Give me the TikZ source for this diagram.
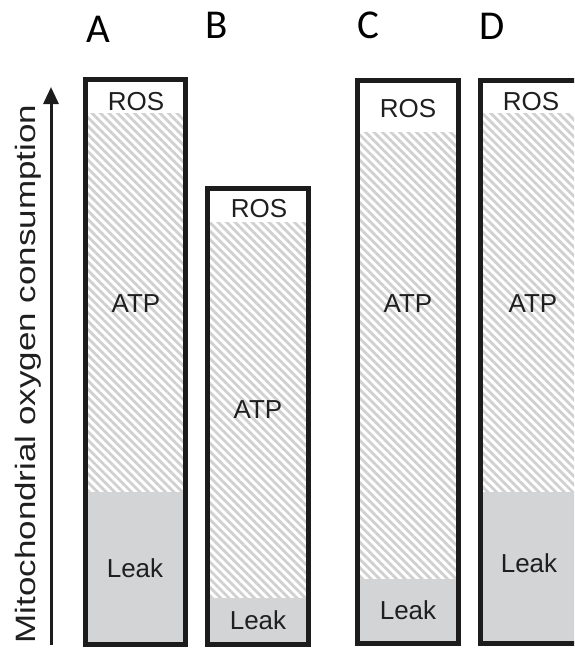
\documentclass[tikz,border=0pt]{standalone}
\usepackage{graphicx}
\usepackage{fontspec}
\setmainfont{Liberation Sans}
\newfontfamily\panelfont{Carlito}
\usetikzlibrary{arrows.meta,patterns.meta}

\definecolor{leakgray}{RGB}{211,212,214}
\definecolor{hatchgray}{RGB}{208,208,208}
\definecolor{framegray}{RGB}{28,28,28}

\tikzset{
  barframe/.style={draw=framegray,line width=5pt},
  atpfill/.style={pattern={Lines[angle=-45,distance=6pt,line width=2.8pt]},pattern color=hatchgray},
  leakfill/.style={fill=leakgray},
  lbl/.style={anchor=base,font=\fontsize{26}{26}\selectfont,text=black!88},
  panel/.style={anchor=base,font=\panelfont\fontsize{41}{41}\selectfont},
  axis/.style={draw=framegray,line width=3pt,-{Triangle[length=17pt,width=15pt]}}
}

\begin{document}
\begin{tikzpicture}[x=1pt,y=1pt,yscale=-1]
\useasboundingbox (0,0) rectangle (574,649);
\clip (0,0) rectangle (574,649);

%Shape: Axis
\coordinate (axbot) at (51,645);
\coordinate (axtop) at (51,87);
\draw [axis] (axbot) -- (axtop);
% Text Node
\node [rotate=90,anchor=base,font=\fontsize{28}{28}\selectfont,text=black!88] (axlbl) at (35,374)
  {\scalebox{1.25}[1]{Mitochondrial oxygen consumption}};

%Shape: Bar A
\fill [atpfill] (85.5,113) rectangle (185.5,492);
\fill [leakfill] (85.5,492) rectangle (185.5,644.5);
\draw [barframe] (85.5,79.5) rectangle (185.5,644.5);

%Shape: Bar B
\fill [atpfill] (207.5,222) rectangle (308.5,598);
\fill [leakfill] (207.5,598) rectangle (308.5,644.5);
\draw [barframe] (207.5,188.5) rectangle (308.5,644.5);

%Shape: Bar C
\fill [atpfill] (357.5,132) rectangle (458.5,579);
\fill [leakfill] (357.5,579) rectangle (458.5,643.5);
\draw [barframe] (357.5,80.5) rectangle (458.5,643.5);

%Shape: Bar D
\fill [atpfill] (480.5,113) rectangle (581.5,492);
\fill [leakfill] (480.5,492) rectangle (581.5,643.5);
\draw [barframe] (480.5,80.5) rectangle (581.5,643.5);

% Text Node
\node [panel] (labA) at (98,42) {A};
\node [panel] (labB) at (217,38) {B};
\node [panel] (labC) at (368,38) {C};
\node [panel] (labD) at (492,39) {D};

% Text Node
\node [lbl] (rosA) at (136,110) {ROS};
\node [lbl] (atpA) at (136,312) {ATP};
\node [lbl] (leakA) at (135,577) {Leak};

\node [lbl] (rosB) at (259,217) {ROS};
\node [lbl] (atpB) at (258,418) {ATP};
\node [lbl] (leakB) at (258,629) {Leak};

\node [lbl] (rosC) at (408,117) {ROS};
\node [lbl] (atpC) at (408,312) {ATP};
\node [lbl] (leakC) at (408,619) {Leak};

\node [lbl] (rosD) at (531,110) {ROS};
\node [lbl] (atpD) at (533,312) {ATP};
\node [lbl] (leakD) at (529,572) {Leak};

\end{tikzpicture}
\end{document}
